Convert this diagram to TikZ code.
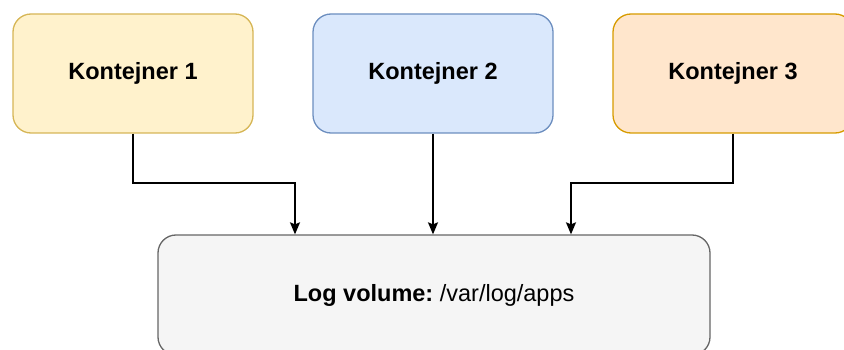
\documentclass[tikz,border=0pt]{standalone}
\usepackage{fontspec}
\setmainfont{Liberation Sans}
\usetikzlibrary{arrows.meta}
\definecolor{yfill}{HTML}{FFF2CC}\definecolor{ydraw}{HTML}{D6B656}
\definecolor{bfill}{HTML}{DAE8FC}\definecolor{bdraw}{HTML}{6C8EBF}
\definecolor{ofill}{HTML}{FFE6CC}\definecolor{odraw}{HTML}{D79B00}
\definecolor{gfill}{HTML}{F5F5F5}\definecolor{gdraw}{HTML}{666666}
\begin{document}
\begin{tikzpicture}[x=1pt,y=-1pt,
  box/.style={draw, line width=1.3pt, rounded corners=18pt, minimum width=240pt, minimum height=119pt, inner sep=0pt, font=\fontsize{23.5}{27}\selectfont\bfseries},
  conn/.style={line width=1.5pt, -{Stealth[length=12pt,width=10pt,inset=2pt]}}]
\useasboundingbox (0,0) rectangle (844,350);
\clip (0,0) rectangle (844,350);
\node[box, fill=yfill, draw=ydraw] (k1) at (133,73.5) {\raisebox{-1.5pt}{Kontejner 1}};
\node[box, fill=bfill, draw=bdraw] (k2) at (433,73.5) {\raisebox{-1.5pt}{Kontejner 2}};
\node[box, fill=ofill, draw=odraw] (k3) at (733,73.5) {\raisebox{-1.5pt}{Kontejner 3}};
\node[box, fill=gfill, draw=gdraw, minimum width=552pt, minimum height=120pt] (log) at (434,295) {\raisebox{-2pt}{Log volume:\mdseries\ /var/log/apps}};
\draw[conn] (k1.south) |- (295,183) -- (log.north -| 295,0);
\draw[conn] (k2.south) -- (log.north -| k2.south);
\draw[conn] (k3.south) |- (571,183) -- (log.north -| 571,0);
\end{tikzpicture}
\end{document}
